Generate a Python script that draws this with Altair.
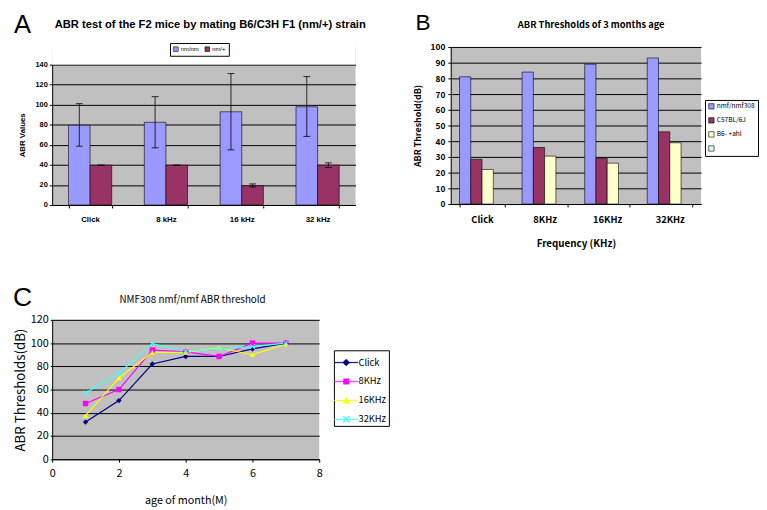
import altair as alt
import pandas as pd

# ---------------- data ----------------
# Panel A
a_categories = ["Click", "8 kHz", "16 kHz", "32 kHz"]
a_groups = ["nm/nm", "nm/+"]
a_nmnm = [79.5, 82.5, 93, 98]
a_nmnm_lo = [58.7, 57, 55, 68.5]
a_nmnm_hi = [101, 108, 131, 128]
a_nmhet = [39.7, 39.7, 19.2, 39.8]
a_nmhet_lo = [39.7, 39.7, 18, 37.5]
a_nmhet_hi = [39.7, 39.7, 21, 42]
a_ticks = [0, 20, 40, 60, 80, 100, 120, 140]

# Panel B
b_categories = ["Click", "8KHz", "16KHz", "32KHz"]
b_groups = ["nmf/nmf308", "C57BL/6J", "B6- +ahl", " "]
b_nmf = [81, 84, 89, 93]
b_c57 = [28.5, 36, 29, 46]
b_b6 = [22, 30.5, 26, 39]
b_ticks = [0, 10, 20, 30, 40, 50, 60, 70, 80, 90, 100]

# Panel C
c_months = [1, 2, 3, 4, 5, 6, 7]
c_series = ["Click", "8KHz", "16KHz", "32KHz"]
c_click = [32, 50.5, 82, 88.5, 88.5, 95, 100]
c_8k = [48, 60, 94, 92.5, 88.5, 100, 100]
c_16k = [37.5, 70, 92, 92, 96, 90, 99]
c_32k = [57, 74, 99.5, 93, 95, 97, 100]
c_xticks = [0, 2, 4, 6, 8]
c_yticks = [0, 20, 40, 60, 80, 100, 120]

title_a = "ABR test of the F2 mice by mating B6/C3H F1 (nm/+) strain"
title_b = "ABR Thresholds of 3 months age"
title_c = "NMF308 nmf/nmf ABR threshold"

# ---------------- styles ----------------
SANS = "Liberation Sans"
CJK = "Noto Sans CJK SC"
GRAY = "#C0C0C0"


def text_layer(text, x, y, size, font, weight="normal", align="left", baseline="top"):
    return alt.Chart(pd.DataFrame({"t": [text]})).mark_text(
        font=font, fontSize=size, fontWeight=weight, align=align,
        baseline=baseline, color="black"
    ).encode(text="t:N", x=alt.value(x), y=alt.value(y))


# ---------------- Panel A ----------------
rowsA = []
for i, c in enumerate(a_categories):
    rowsA.append(dict(cat=c, grp=a_groups[0], val=a_nmnm[i], lo=a_nmnm_lo[i], hi=a_nmnm_hi[i]))
    rowsA.append(dict(cat=c, grp=a_groups[1], val=a_nmhet[i], lo=a_nmhet_lo[i], hi=a_nmhet_hi[i]))
dfA = pd.DataFrame(rowsA)

A_W, A_H, A_TOP = 309, 161, 18   # view is taller than the grey plot; top strip masked

xA = alt.X("cat:N", sort=a_categories,
           scale=alt.Scale(domain=a_categories, paddingInner=0.43, paddingOuter=0.215),
           axis=alt.Axis(title=None, labelAngle=0, labelFont=SANS, labelFontSize=8,
                         labelFontWeight="bold", labelColor="black", domainColor="black",
                         tickColor="black", tickBand="extent", tickSize=3, labelPadding=8))
oA = alt.XOffset("grp:N", sort=a_groups, scale=alt.Scale(domain=a_groups))
scaleA = alt.Scale(domain=[0, 140], range=[A_H, A_TOP], nice=False)
axisA = alt.Axis(title="ABR Values", values=a_ticks, grid=True,
                 gridColor="black", domainColor="black", tickColor="black",
                 tickSize=3, labelPadding=2, labelFont=SANS, labelFontSize=7.5,
                 labelFontWeight="bold", labelColor="black", titleFont=SANS,
                 titleFontSize=8, titleFontWeight="bold", titleColor="black",
                 titlePadding=9, labelOverlap=False)
colA = alt.Color("grp:N", scale=alt.Scale(domain=a_groups, range=["#9999FF", "#993366"]),
                 legend=alt.Legend(title=None, orient="none", legendX=120, legendY=-4,
                                   direction="horizontal", symbolType="square", symbolSize=22,
                                   symbolStrokeColor="black", symbolStrokeWidth=0.6,
                                   labelFont=SANS, labelFontSize=6, labelColor="black",
                                   labelOffset=2, columnPadding=4, padding=3,
                                   strokeColor="black", fillColor="white"))

baseA = alt.Chart(dfA)
maskA = alt.Chart(pd.DataFrame({"v": [a_ticks[-1]]})).mark_rect(
    color="white", opacity=1).encode(
    y=alt.Y("v:Q", scale=scaleA, axis=axisA), y2=alt.value(0))
barsA = baseA.mark_bar(stroke="black", strokeWidth=0.6, opacity=1).encode(
    x=xA, xOffset=oA, y=alt.Y("val:Q", scale=scaleA, axis=axisA), color=colA)
errA = baseA.mark_rule(color="black", strokeWidth=0.8).encode(
    x=xA, xOffset=oA, y=alt.Y("lo:Q", scale=scaleA, axis=axisA), y2="hi:Q")
capLoA = baseA.mark_tick(color="black", thickness=0.8, size=7, opacity=1).encode(
    x=xA, xOffset=oA, y=alt.Y("lo:Q", scale=scaleA, axis=axisA))
capHiA = baseA.mark_tick(color="black", thickness=0.8, size=7, opacity=1).encode(
    x=xA, xOffset=oA, y=alt.Y("hi:Q", scale=scaleA, axis=axisA))

panelA = alt.layer(
    maskA, barsA, errA, capLoA, capHiA,
    text_layer("A", -39, -35, 26, SANS),
    text_layer(title_a, 161, -22.5, 11.4, SANS, weight="bold", align="center", baseline="middle"),
).properties(width=A_W, height=A_H)

# ---------------- Panel B ----------------
rowsB = []
for i, c in enumerate(b_categories):
    for g, vals in zip(b_groups[:3], [b_nmf, b_c57, b_b6]):
        rowsB.append(dict(cat=c, grp=g, val=vals[i]))
dfB = pd.DataFrame(rowsB)

xB = alt.X("cat:N", sort=b_categories,
           scale=alt.Scale(domain=b_categories, paddingInner=0.28, paddingOuter=0.14),
           axis=alt.Axis(title="Frequency (KHz)", labelAngle=0, labelFont=CJK, labelFontSize=9.5,
                         labelFontWeight="bold", labelColor="black", domainColor="black",
                         tickColor="black", tickBand="extent", tickSize=3, labelPadding=8,
                         titleFont=CJK, titleFontSize=10, titleFontWeight="bold",
                         titleColor="black", titlePadding=15))
oB = alt.XOffset("grp:N", sort=b_groups, scale=alt.Scale(domain=b_groups))
yB = alt.Y("val:Q", scale=alt.Scale(domain=[0, 100], nice=False),
           axis=alt.Axis(title="ABR Threshold(dB)", values=b_ticks, grid=True,
                         gridColor="black", domainColor="black", tickColor="black",
                         tickSize=3, labelPadding=3, labelFont=CJK, labelFontSize=8.5,
                         labelFontWeight="bold", labelColor="black", titleFont=CJK,
                         titleFontSize=9, titleFontWeight="bold", titleColor="black",
                         titlePadding=8, labelOverlap=False))
colB = alt.Color("grp:N", scale=alt.Scale(domain=b_groups,
                                          range=["#9999FF", "#993366", "#FFFFCC", "#CCFFFF"]),
                 legend=alt.Legend(title=None, orient="none", legendX=259, legendY=54,
                                   direction="vertical", symbolType="square", symbolSize=30,
                                   symbolStrokeColor="black", symbolStrokeWidth=0.6,
                                   labelFont=CJK, labelFontSize=6.7, labelColor="black",
                                   labelOffset=2, rowPadding=5.3, padding=3,
                                   strokeColor="black", fillColor="white"))

barsB = alt.Chart(dfB).mark_bar(stroke="black", strokeWidth=0.6, opacity=1).encode(
    x=xB, xOffset=oB, y=yB, color=colB)

panelB = alt.layer(
    barsB,
    text_layer("B", -36, -35, 23, SANS),
    text_layer(title_b, 143, -22, 9.5, CJK, weight="bold", align="center", baseline="middle"),
).properties(width=255, height=160)

# ---------------- Panel C ----------------
rowsC = []
for s, vals in zip(c_series, [c_click, c_8k, c_16k, c_32k]):
    for m, v in zip(c_months, vals):
        rowsC.append(dict(month=m, series=s, val=v))
dfC = pd.DataFrame(rowsC)

c_colors = ["#000080", "#FF00FF", "#FFFF00", "#40FFFF"]
x_path = ("M-1,-0.75L-0.75,-1L0,-0.25L0.75,-1L1,-0.75L0.25,0L1,0.75L0.75,1L0,0.25"
          "L-0.75,1L-1,0.75L-0.25,0Z")
plot_shapes = ["diamond", "square", "triangle-up", x_path]
leg_line = "M-1.2,-0.035H1.2V0.035H-1.2Z "
legend_shapes = [
    leg_line + "M0,-0.36L0.36,0L0,0.36L-0.36,0Z",
    leg_line + "M-0.28,-0.28H0.28V0.28H-0.28Z",
    leg_line + "M0,-0.34L0.34,0.28H-0.34Z",
    leg_line + "M-0.34,-0.25L-0.25,-0.34L0,-0.09L0.25,-0.34L0.34,-0.25L0.09,0L0.34,0.25L0.25,0.34"
               "L0,0.09L-0.25,0.34L-0.34,0.25L-0.09,0Z",
]

xC = alt.X("month:Q", scale=alt.Scale(domain=[0, 8], nice=False),
           axis=alt.Axis(title="age of month(M)", values=c_xticks, grid=False,
                         labelFlush=False, labelFont=CJK, labelFontSize=11,
                         labelColor="black", domainColor="black", tickColor="black",
                         tickSize=3, labelPadding=6, titleFont=CJK, titleFontSize=11,
                         titleFontWeight="normal", titleColor="black", titlePadding=16))
yC = alt.Y("val:Q", scale=alt.Scale(domain=[0, 120], nice=False),
           axis=alt.Axis(title="ABR Thresholds(dB)", values=c_yticks, grid=True,
                         gridColor="black", domainColor="black", tickColor="black",
                         tickSize=2, labelPadding=2, labelFont=CJK, labelFontSize=11,
                         labelColor="black", titleFont=CJK, titleFontSize=13.5,
                         titleFontWeight="normal", titleColor="black", titlePadding=3,
                         labelOverlap=False))
colScaleC = alt.Scale(domain=c_series, range=c_colors)
legC = alt.Legend(title=None, orient="none", legendX=287, legendY=31, direction="vertical",
                  symbolSize=400, symbolStrokeWidth=0.4, labelFont=CJK, labelFontSize=9.5,
                  labelColor="black", labelOffset=2, rowPadding=4.3, padding=2,
                  strokeColor="black", fillColor="white")

legendOnly = alt.Chart(dfC).transform_filter("false").mark_point(filled=True, opacity=1).encode(
    color=alt.Color("series:N", scale=colScaleC, legend=legC),
    shape=alt.Shape("series:N", scale=alt.Scale(domain=c_series, range=legend_shapes), legend=legC),
)
linesC = alt.Chart(dfC).mark_line(strokeWidth=1.2).encode(
    x=xC, y=yC, color=alt.Color("series:N", scale=colScaleC, legend=legC),
    order="month:Q")
pointLayers = []
for s, shp in zip(c_series, plot_shapes):
    pointLayers.append(
        alt.Chart(dfC).transform_filter(alt.datum.series == s)
        .mark_point(shape=shp, filled=True, size=30, opacity=1)
        .encode(x=xC, y=yC, color=alt.Color("series:N", scale=colScaleC, legend=legC))
    )

panelC = alt.layer(
    legendOnly, linesC, *pointLayers,
    text_layer("C", -40, -35, 27, SANS),
    text_layer(title_c, 143, -20, 10, CJK, align="center", baseline="middle"),
).properties(width=272, height=142)

# ---------------- compose ----------------
IND = dict(x="independent", y="independent", color="independent",
           xOffset="independent", shape="independent")

top_row = alt.hconcat(panelA, panelB, spacing=47).resolve_scale(**IND).resolve_axis(
    x="independent", y="independent").resolve_legend(color="independent", shape="independent")

chart = alt.vconcat(top_row, panelC, spacing=36).resolve_scale(**IND).resolve_axis(
    x="independent", y="independent").resolve_legend(
    color="independent", shape="independent"
).properties(
    padding={"left": 5, "top": 0, "right": 0, "bottom": 0},
    background="white",
).configure_view(
    fill=GRAY, stroke=None
)

chart.save("out.html", embed_options={"renderer": "svg", "actions": False})
